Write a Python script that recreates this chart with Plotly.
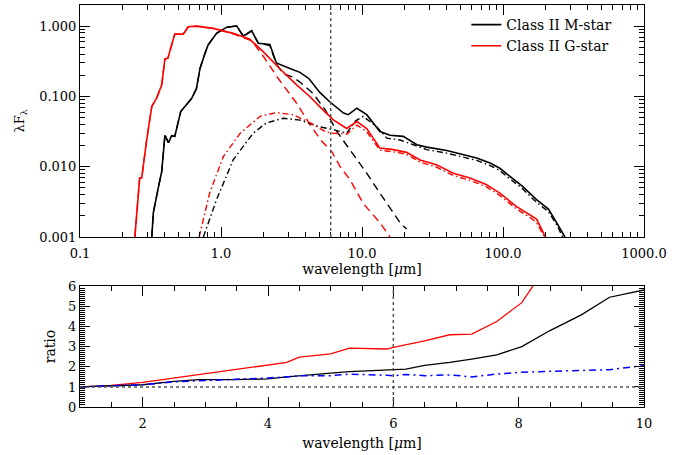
import plotly.graph_objects as go

# ---------------- data ----------------
# Class II M-star: total SED (solid black)
m_tot_wl = [0.323, 0.331, 0.359, 0.38, 0.40, 0.424, 0.447, 0.47, 0.518, 0.57, 0.62, 0.67,
            0.71, 0.77, 0.81, 0.93, 1.09, 1.29, 1.44, 1.65, 1.84, 2.22, 2.47, 3.08, 3.63,
            4.2, 5.0, 5.9, 7.4, 8.0, 9.2, 10.8, 13.4, 15.8, 19.6, 24.5, 28.8, 39.9, 49.6,
            65, 81, 95, 108, 137, 173, 210, 240, 265, 275]
m_tot_f = [0.001, 0.0022, 0.005, 0.0086, 0.028, 0.022, 0.0276, 0.027, 0.061, 0.076, 0.094, 0.13,
           0.25, 0.41, 0.54, 0.79, 0.96, 1.01, 0.72, 0.86, 0.57, 0.55, 0.30, 0.25, 0.22,
           0.18, 0.115, 0.084, 0.058, 0.055, 0.068, 0.055, 0.0316, 0.028, 0.027, 0.0205, 0.019,
           0.017, 0.0151, 0.0133, 0.0113, 0.0095, 0.0077, 0.0053, 0.0034, 0.0025, 0.0016, 0.0011, 0.001]

# Class II M-star: stellar photosphere (dashed black)
m_star_wl = [0.323, 0.331, 0.359, 0.38, 0.40, 0.424, 0.447, 0.47, 0.518, 0.57, 0.62, 0.67,
             0.71, 0.77, 0.81, 0.93, 1.09, 1.29, 1.44, 1.65, 1.84, 2.22, 2.47, 2.77, 3.2, 3.63,
             4.5, 5.5, 6.6, 8.9, 10.8, 13.4, 15.8, 18.6, 20.7]
m_star_f = [0.001, 0.0022, 0.005, 0.0086, 0.028, 0.022, 0.0276, 0.027, 0.061, 0.076, 0.094, 0.13,
            0.25, 0.41, 0.54, 0.79, 0.96, 1.01, 0.72, 0.86, 0.57, 0.53, 0.29, 0.21, 0.19, 0.16,
            0.11, 0.064, 0.032, 0.0139, 0.0081, 0.0042, 0.0026, 0.0016, 0.0013]

# Class II M-star: disk (dash-dot black)
m_disk_wl = [0.75, 0.93, 1.22, 1.69, 2.1, 2.77, 3.63, 5.0, 6.3, 7.8, 9.0, 10.2, 12.7, 15,
             18.6, 24.5, 28.8, 39.9, 49.6, 65, 81, 95, 108, 137, 173, 210, 240, 265]
m_disk_f = [0.001, 0.0034, 0.0125, 0.030, 0.042, 0.049, 0.046, 0.037, 0.0335, 0.030, 0.045, 0.052,
            0.037, 0.0255, 0.024, 0.0195, 0.0175, 0.0156, 0.014, 0.0123, 0.0104, 0.0088, 0.0071,
            0.0049, 0.0031, 0.0023, 0.0015, 0.001]

# Class II G-star: total SED (solid red)
g_tot_wl = [0.245, 0.265, 0.274, 0.289, 0.297, 0.323, 0.35, 0.38, 0.40, 0.42, 0.447, 0.47, 0.54,
            0.586, 0.67, 0.88, 1.22, 1.6, 2.0, 2.6, 3.44, 4.28, 5.3, 6.3, 7.8, 9.2, 10.8, 13.4,
            16.7, 20.7, 25.8, 33.7, 44.4, 58.3, 76, 95, 125, 155, 173, 191, 200]
g_tot_f = [0.001, 0.0069, 0.0069, 0.0174, 0.024, 0.072, 0.095, 0.146, 0.34, 0.35, 0.57, 0.77, 0.77,
           0.98, 1.0, 0.93, 0.79, 0.65, 0.43, 0.25, 0.146, 0.099, 0.064, 0.046, 0.035, 0.044, 0.035,
           0.0184, 0.0175, 0.0160, 0.0125, 0.0107, 0.0081, 0.0069, 0.0056, 0.0042, 0.0027, 0.0021,
           0.0018, 0.0012, 0.001]

# Class II G-star: stellar photosphere (dashed red)
g_star_wl = [0.245, 0.265, 0.274, 0.289, 0.297, 0.323, 0.35, 0.38, 0.40, 0.42, 0.447, 0.47, 0.54,
             0.586, 0.67, 0.88, 1.22, 1.65, 2.0, 2.6, 3.44, 4.3, 5.1, 6.1, 7.0, 8.2, 10.2, 13.4, 15.8]
g_star_f = [0.001, 0.0069, 0.0069, 0.0174, 0.024, 0.072, 0.095, 0.146, 0.34, 0.35, 0.57, 0.77, 0.77,
            0.98, 1.0, 0.93, 0.78, 0.62, 0.37, 0.17, 0.08, 0.039, 0.024, 0.0164, 0.010, 0.0066,
            0.003, 0.0016, 0.001]

# Class II G-star: disk (dash-dot red)
g_disk_wl = [0.70, 0.83, 1.04, 1.37, 1.89, 2.47, 3.24, 4.3, 5.6, 6.3, 7.8, 9.2, 10.8, 13.4, 16.7,
             20.7, 25.8, 33.7, 44.4, 58.3, 76, 95, 125, 155, 173, 191, 197]
g_disk_f = [0.001, 0.0042, 0.014, 0.030, 0.052, 0.059, 0.055, 0.042, 0.031, 0.030, 0.029, 0.039,
            0.0316, 0.0172, 0.0163, 0.0150, 0.0116, 0.0099, 0.0075, 0.0064, 0.0052, 0.0039,
            0.0025, 0.0019, 0.0016, 0.0011, 0.001]

# Ratio panel
ratio_wl = [1.0, 1.5, 2.0, 2.5, 2.9, 3.45, 4.0, 4.3, 4.5, 5.0, 5.3, 5.9, 6.0, 6.2, 6.5, 6.9,
            7.25, 7.65, 8.05, 8.5, 9.0, 9.45, 10.0]
ratio_red = [1.0, 1.08, 1.23, 1.45, 1.61, 1.86, 2.1, 2.22, 2.49, 2.65, 2.93, 2.89, 2.97, 3.1,
             3.3, 3.6, 3.63, 4.26, 5.2, 7.3]
ratio_black = [1.0, 1.05, 1.11, 1.28, 1.36, 1.36, 1.40, 1.50, 1.56, 1.69, 1.76, 1.84, 1.86, 1.89,
               2.07, 2.22, 2.39, 2.6, 3.01, 3.81, 4.59, 5.47, 5.83]
ratio_blue = [1.0, 1.05, 1.11, 1.25, 1.30, 1.35, 1.45, 1.50, 1.56, 1.56, 1.64, 1.58, 1.56, 1.62,
              1.56, 1.60, 1.50, 1.64, 1.73, 1.78, 1.82, 1.86, 2.06]

marker_wl = 6.0      # vertical dotted reference line
ratio_unity = 1.0    # horizontal dotted reference line

legend_names = ["Class II M-star", "Class II G-star"]

# ---------------- figure ----------------
FONT = "DejaVu Serif"
DASH = "8px,5px"
DASHDOT = "6px,3px,1.5px,3px"

fig = go.Figure()

def add(x, y, color, dash, name=None, xa="x", ya="y", width=1.4):
    kw = dict(name=name, showlegend=True) if name else dict(showlegend=False)
    fig.add_trace(go.Scatter(
        x=x, y=y, mode="lines", xaxis=xa, yaxis=ya,
        line=dict(color=color, dash=dash, width=width),
        hoverinfo="skip", **kw))

add(m_star_wl, m_star_f, "black", DASH)
add(g_star_wl, g_star_f, "red", DASH)
add(m_disk_wl, m_disk_f, "black", DASHDOT)
add(g_disk_wl, g_disk_f, "red", DASHDOT)
add(m_tot_wl, m_tot_f, "black", "solid", legend_names[0], width=1.6)
add(g_tot_wl, g_tot_f, "red", "solid", legend_names[1], width=1.6)

add(ratio_wl[:len(ratio_red)], ratio_red, "red", "solid", xa="x2", ya="y2", width=1.3)
add(ratio_wl, ratio_black, "black", "solid", xa="x2", ya="y2", width=1.3)
add(ratio_wl, ratio_blue, "blue", "7px,4px,2px,4px", xa="x2", ya="y2", width=1.5)

axis_common = dict(showline=True, linecolor="black", linewidth=1, mirror="ticks",
                   ticks="inside", ticklen=10, tickwidth=1, tickcolor="black",
                   showgrid=False, zeroline=False, automargin=False,
                   tickfont=dict(family=FONT, size=13, color="black"))

title_font = dict(family=FONT, size=14, color="black")

fig.update_layout(
    width=691, height=455,
    margin=dict(l=80, r=47, t=5, b=48, autoexpand=False),
    paper_bgcolor="white", plot_bgcolor="white",
    font=dict(family=FONT, size=13, color="black"),
    showlegend=True,
    legend=dict(x=0.685, y=0.99, xanchor="left", yanchor="top",
                bgcolor="rgba(0,0,0,0)", font=dict(family=FONT, size=14, color="black"),
                tracegroupgap=0, itemwidth=30),
    xaxis=dict(axis_common, type="log", range=[-1, 3], anchor="y",
               tickvals=[0.1, 1, 10, 100, 1000],
               ticktext=["0.1", "1.0", "10.0", "100.0", "1000.0"],
               minor=dict(ticks="inside", ticklen=5, tickcolor="black", dtick="D1", showgrid=False),
               title=dict(text="wavelength [<i>μ</i>m]", font=title_font, standoff=2),
               ticklabelstandoff=4),
    yaxis=dict(axis_common, type="log", range=[-3, 0.301], domain=[0.4229, 1.0], anchor="x",
               tickvals=[0.001, 0.01, 0.1, 1],
               ticktext=["0.001", "0.010", "0.100", "1.000"],
               minor=dict(ticks="inside", ticklen=5, tickcolor="black", dtick="D1", showgrid=False),
               title=dict(text="λF<sub>λ</sub>", font=dict(family=FONT, size=13, color="black"),
                          standoff=11)),
    xaxis2=dict(axis_common, range=[1, 10], anchor="y2", tick0=0, dtick=2,
                minor=dict(ticks="inside", ticklen=5, tickcolor="black", dtick=0.5, showgrid=False),
                title=dict(text="wavelength [<i>μ</i>m]", font=title_font, standoff=8),
                ticklabelstandoff=4),
    yaxis2=dict(axis_common, range=[0, 6.03], domain=[0.0, 0.301], anchor="x2",
                tick0=0, dtick=1,
                minor=dict(ticks="inside", ticklen=5, tickcolor="black", dtick=0.1, showgrid=False),
                title=dict(text="ratio", font=title_font, standoff=9)),
)

dot_line = dict(color="#555555", width=1.5, dash="dot")
fig.add_shape(type="line", xref="x", yref="y domain", x0=marker_wl, x1=marker_wl, y0=0, y1=1,
              line=dot_line)
fig.add_shape(type="line", xref="x2", yref="y2 domain", x0=marker_wl, x1=marker_wl, y0=0, y1=1,
              line=dot_line)
fig.add_shape(type="line", xref="x2 domain", yref="y2", x0=0, x1=1, y0=ratio_unity, y1=ratio_unity,
              line=dot_line)

fig.write_html("out.html",
               config={"displayModeBar": False, "staticPlot": True},
               post_script="document.body.style.margin='0';document.body.style.overflow='hidden';")
